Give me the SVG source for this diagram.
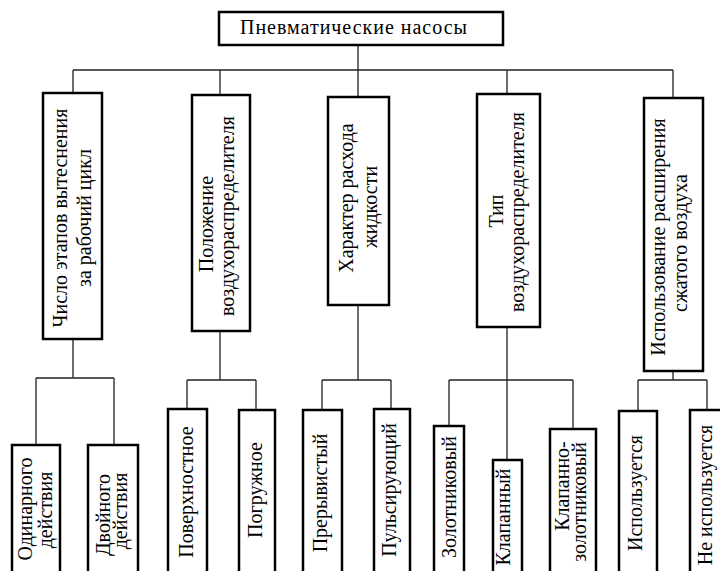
<svg xmlns="http://www.w3.org/2000/svg" width="720" height="571" viewBox="0 0 720 571">
<style>
.box{fill:#fff;stroke:#000;stroke-width:2.5}
.ln{fill:none;stroke:#222;stroke-width:1.3}
.t{font-family:'Liberation Serif','DejaVu Serif',serif;font-size:20px;fill:#000}
.v{text-anchor:middle}
</style>
<rect width="720" height="571" fill="#fff"/>
<g id="connectors">
<path class="ln" d="M358 46V70M73 70H673M73 70V93M220 70V95M358 70V97M507 70V94M673 70V98"/>
<path class="ln" d="M73 339V378M36 378H114M36 378V445M114 378V445"/>
<path class="ln" d="M220 331V380M187 380H256M187 380V409M256 380V410"/>
<path class="ln" d="M358 305V380M322 380H391M322 380V410M391 380V409"/>
<path class="ln" d="M507 327V380M449 380H573M449 380V426M507 380V460M573 380V429"/>
<path class="ln" d="M673 371V380M638 380H707M638 380V411M707 380V410"/>
</g>
<g class="t">
<g id="root">
<rect class="box" x="219" y="12" width="284" height="33"/>
<text x="240" y="34" textLength="227" lengthAdjust="spacing">Пневматические  насосы</text>
</g>
<g id="n1">
<rect class="box" x="43" y="93" width="59" height="246"/>
<text class="v" transform="translate(67,218) rotate(-90)">Число этапов вытеснения</text>
<text class="v" transform="translate(91,218) rotate(-90)">за рабочий цикл</text>
</g>
<g id="n2">
<rect class="box" x="192" y="95" width="58" height="236"/>
<text class="v" transform="translate(213,224) rotate(-90)">Положение</text>
<text class="v" transform="translate(234,216) rotate(-90)">воздухораспределителя</text>
</g>
<g id="n3">
<rect class="box" x="328" y="97" width="61" height="208"/>
<text class="v" transform="translate(353,198) rotate(-90)">Характер расхода</text>
<text class="v" transform="translate(377,207) rotate(-90)">жидкости</text>
</g>
<g id="n4">
<rect class="box" x="477" y="94" width="63" height="233"/>
<text class="v" transform="translate(503,211) rotate(-90)">Тип</text>
<text class="v" transform="translate(524,212) rotate(-90)">воздухораспределителя</text>
</g>
<g id="n5">
<rect class="box" x="644" y="98" width="59" height="273"/>
<text class="v" transform="translate(665,237) rotate(-90)">Использование расширения</text>
<text class="v" transform="translate(687,243) rotate(-90)">сжатого воздуха</text>
</g>
<g id="l1">
<rect class="box" x="12" y="445" width="48" height="140"/>
<text class="v" transform="translate(32,509) rotate(-90)">Одинарного</text>
<text class="v" transform="translate(52,510) rotate(-90)">действия</text>
</g>
<g id="l2">
<rect class="box" x="88" y="445" width="50" height="140"/>
<text class="v" transform="translate(110,515) rotate(-90)">Двойного</text>
<text class="v" transform="translate(127,511) rotate(-90)">действия</text>
</g>
<g id="l3">
<rect class="box" x="168" y="409" width="39" height="180"/>
<text class="v" transform="translate(193,492) rotate(-90)">Поверхностное</text>
</g>
<g id="l4">
<rect class="box" x="239" y="410" width="36" height="180"/>
<text class="v" transform="translate(262,490) rotate(-90)">Погружное</text>
</g>
<g id="l5">
<rect class="box" x="303" y="410" width="39" height="180"/>
<text class="v" transform="translate(327,493) rotate(-90)">Прерывистый</text>
</g>
<g id="l6">
<rect class="box" x="374" y="409" width="36" height="180"/>
<text class="v" transform="translate(396,490) rotate(-90)">Пульсирующий</text>
</g>
<g id="l7">
<rect class="box" x="434" y="426" width="30" height="160"/>
<text class="v" transform="translate(456,497) rotate(-90)">Золотниковый</text>
</g>
<g id="l8">
<rect class="box" x="493" y="460" width="29" height="130"/>
<text class="v" transform="translate(510,517) rotate(-90)">Клапанный</text>
</g>
<g id="l9">
<rect class="box" x="550" y="429" width="46" height="160"/>
<text class="v" transform="translate(569,486) rotate(-90)">Клапанно-</text>
<text class="v" transform="translate(586,502) rotate(-90)">золотниковый</text>
</g>
<g id="l10">
<rect class="box" x="619" y="411" width="38" height="180"/>
<text class="v" transform="translate(642,493) rotate(-90)">Используется</text>
</g>
<g id="l11">
<rect class="box" x="690" y="410" width="36" height="180"/>
<text class="v" transform="translate(712,495) rotate(-90)">Не используется</text>
</g>
</g>
</svg>
